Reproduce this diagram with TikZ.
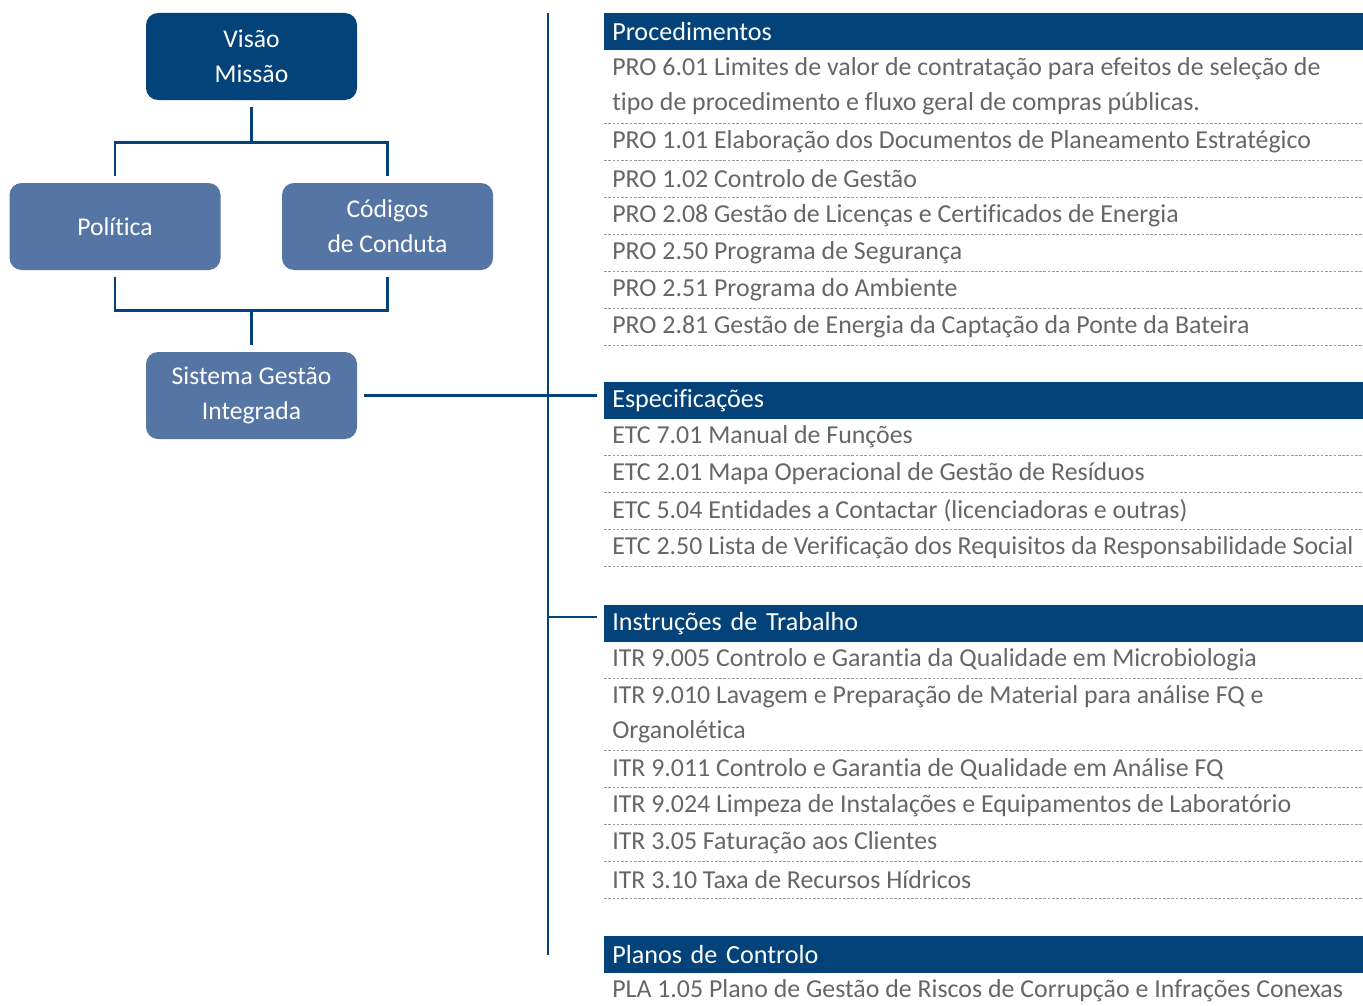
\documentclass[tikz,border=0pt]{standalone}
\usepackage{fontspec}
\setmainfont{Carlito}[Ligatures=NoCommon]
\definecolor{sgdark}{HTML}{03437A}
\definecolor{sglight}{HTML}{5576A5}
\definecolor{sgtext}{HTML}{666666}
\definecolor{sgrule}{HTML}{9C9C9C}
\begin{document}
\begin{tikzpicture}[x=0.75pt,y=-0.75pt,
    orgbox/.style={rectangle, rounded corners=9pt, fill=sglight, text=white, minimum width=158.25pt, minimum height=65.25pt, inner sep=0pt, outer sep=5pt, align=center, font=\fontsize{19.2}{26}\selectfont},
    header/.style={rectangle, fill=sgdark, text=white, anchor=north west, minimum height=27.5pt, text width=557.25pt, inner xsep=6pt, inner ysep=0pt, align=left, font=\fontsize{19.6}{26}\selectfont},
    entry/.style={rectangle, anchor=west, text=sgtext, minimum height=27.6pt, inner xsep=6pt, inner ysep=0pt, align=left, font=\fontsize{19.4}{26.25}\selectfont},
    connector/.style={draw=sgdark, line width=2.2pt},
    entryrule/.style={draw=sgrule, line width=0.6pt, dash pattern=on 2pt off 1.2pt}]
      \useasboundingbox (0,0) rectangle (1363,1006);
      \node[orgbox] (vm) at (251.5,56.5) [fill=sgdark] {Visão\\Missão};
      \node[orgbox] (pol) at (115,226.5) {Política};
      \node[orgbox] (cod) at (387.5,226.5) {Códigos\\de Conduta};
      \node[orgbox] (sgi) at (251.5,395.5) {Sistema Gestão\\Integrada};
      \coordinate (bustop) at (548,13);
      \coordinate (busbot) at (548,955);
      \coordinate (itrjoin) at (548,617);
      \coordinate (rightedge) at (1363,0);
      \node[header] (pro) at (604,13) {Procedimentos};
      \node[entry, minimum height=54.75pt] (pro1) at (604,86.5) {PRO 6.01 Limites de valor de contratação para efeitos de seleção de\\tipo de procedimento e fluxo geral de compras públicas.};
      \node[entry] (pro2) at (604,141.5) {PRO 1.01 Elaboração dos Documentos de Planeamento Estratégico};
      \node[entry] (pro3) at (604,178.5) {PRO 1.02 Controlo de Gestão};
      \node[entry] (pro4) at (604,215.5) {PRO 2.08 Gestão de Licenças e Certificados de Energia};
      \node[entry] (pro5) at (604,252.5) {PRO 2.50 Programa de Segurança};
      \node[entry] (pro6) at (604,289.5) {PRO 2.51 Programa do Ambiente};
      \node[entry] (pro7) at (604,326.5) {PRO 2.81 Gestão de Energia da Captação da Ponte da Bateira};
      \node[header] (esp) at (604,382) {Especificações};
      \node[entry] (etc1) at (604,437) {ETC 7.01 Manual de Funções};
      \node[entry] (etc2) at (604,474) {ETC 2.01 Mapa Operacional de Gestão de Resíduos};
      \node[entry] (etc3) at (604,511) {ETC 5.04 Entidades a Contactar (licenciadoras e outras)};
      \node[entry] (etc4) at (604,548) {ETC 2.50 Lista de Verificação dos Requisitos da Responsabilidade Social};
      \node[header] (itr) at (604,605) {Instruções de Trabalho};
      \node[entry] (itr1) at (604,660) {ITR 9.005 Controlo e Garantia da Qualidade em Microbiologia};
      \node[entry, minimum height=54.75pt] (itr2) at (604,714) {ITR 9.010 Lavagem e Preparação de Material para análise FQ e\\Organolética};
      \node[entry] (itr3) at (604,769) {ITR 9.011 Controlo e Garantia de Qualidade em Análise FQ};
      \node[entry] (itr4) at (604,806) {ITR 9.024 Limpeza de Instalações e Equipamentos de Laboratório};
      \node[entry] (itr5) at (604,843) {ITR 3.05 Faturação aos Clientes};
      \node[entry] (itr6) at (604,880) {ITR 3.10 Taxa de Recursos Hídricos};
      \node[header] (pla) at (604,936) {Planos de Controlo};
      \node[entry] (pla1) at (604,990.5) {PLA 1.05 Plano de Gestão de Riscos de Corrupção e Infrações Conexas};
      \foreach \source/\dest in {vm/pol, vm/cod}
        \draw[connector] (\source.south) -- ++(0,36) -| (\dest.north);
      \foreach \source/\dest in {pol/sgi, cod/sgi}
        \draw[connector] (\source.south) -- ++(0,34) -| (\dest.north);
      \draw[connector] (bustop) -- (busbot);
      \draw[connector, shorten >=5pt] (sgi.east) -- (sgi.east -| esp.west);
      \draw[connector, shorten >=5pt] (itrjoin) -- (itrjoin -| itr.west);
      \foreach \n in {pro1,pro2,pro3,pro4,pro5,pro6,pro7,etc1,etc2,etc3,etc4,itr1,itr2,itr3,itr4,itr5,itr6}
        \draw[entryrule] (\n.south west) -- (\n.south west -| rightedge);
\end{tikzpicture}
\end{document}
